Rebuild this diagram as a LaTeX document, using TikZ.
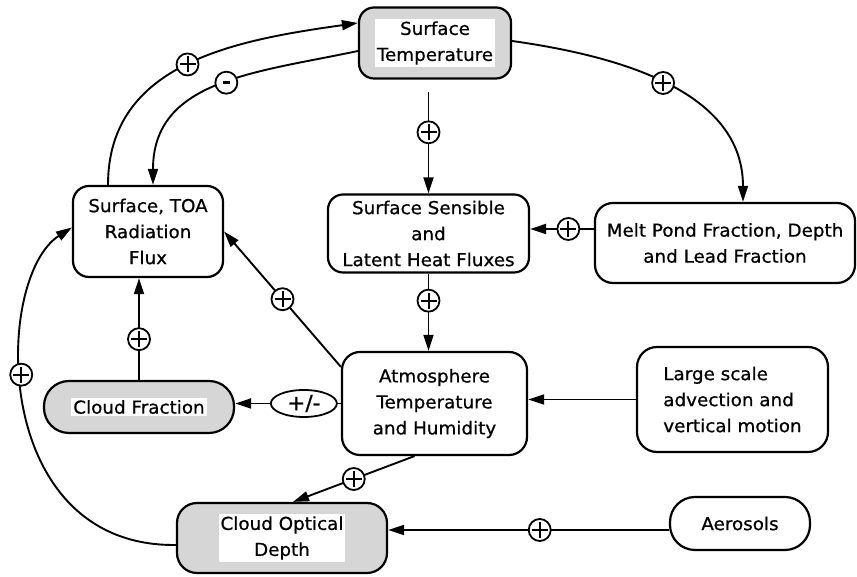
\documentclass[tikz,border=0pt]{standalone}
\usepackage{fontspec}
\setmainfont{DejaVu Sans}[FakeStretch=1.03, FakeBold=0.8]
\usetikzlibrary{arrows.meta,shapes.geometric,calc}
\begin{document}
\begin{tikzpicture}[x=1pt,y=1pt,
 lbl/.style={font=\fontsize{17.8}{26}\selectfont},
 box/.style={draw, line width=2.2pt, rounded corners=15pt, align=center, inner sep=0pt, lbl},
 shadebox/.style={box, fill=gray!32},
 txt/.style={fill=white, align=center, inner sep=2pt, lbl},
 conn/.style={line width=1.9pt, -{Triangle[length=16pt,width=10pt]}},
 sgn/.style={circle, draw, fill=white, line width=1.8pt, minimum size=22pt, inner sep=0pt},
 plus/.style={sgn, path picture={\draw[arrows=-, line width=2pt]
   ($(path picture bounding box.west)+(3pt,0)$) -- ($(path picture bounding box.east)+(-3pt,0)$)
   ($(path picture bounding box.south)+(0,3pt)$) -- ($(path picture bounding box.north)+(0,-3pt)$);}},
 minus/.style={sgn, path picture={\draw[arrows=-, line width=3.2pt]
   ($(path picture bounding box.center)+(-3.5pt,0)$) -- ($(path picture bounding box.center)+(3.5pt,0)$);}},
 pm/.style={ellipse, draw, fill=white, line width=1.8pt, minimum width=66pt, minimum height=27pt, inner sep=0pt, font=\fontsize{21}{21}\selectfont},
]
\useasboundingbox (0,0) rectangle (857,577);

% nodes
\node[box, minimum width=150pt, minimum height=91pt, rounded corners=16pt] (rf) at (148,345.5) {Surface, TOA\\Radiation\\Flux};
\node[shadebox, minimum width=152pt, minimum height=71pt] (st) at (435,534) {};
\node[txt] (stt) at (st) {Surface\\Temperature};
\node[box, minimum width=201pt, minimum height=78pt] (sh) at (428.5,343.5) {Surface Sensible\\and\\Latent Heat Fluxes};
\node[box, minimum width=260pt, minimum height=80pt, rounded corners=18pt] (mp) at (725,334) {Melt Pond Fraction, Depth\\and Lead Fraction};
\node[box, minimum width=185pt, minimum height=103pt, rounded corners=18pt] (at) at (434.5,173.5) {Atmosphere\\Temperature\\and Humidity};
\node[box, minimum width=191pt, minimum height=105pt, rounded corners=20pt, align=left] (ls) at (732.5,177.5) {Large scale\\advection and\\vertical motion};
\node[shadebox, minimum width=190pt, minimum height=52pt, rounded corners=25pt] (cf) at (139,170) {};
\node[txt] (cft) at (cf) {Cloud Fraction};
\node[shadebox, minimum width=210pt, minimum height=70pt, rounded corners=20pt] (cod) at (282,39) {};
\node[txt] (codt) at (cod) {Cloud Optical\\Depth};
\node[box, minimum width=140pt, minimum height=53pt, rounded corners=25pt] (ae) at (740,53.5) {Aerosols};

% connectors
\draw[conn] ($(rf.north)+(-40,0)$) to[out=90,in=188,looseness=1.05] node[plus,pos=0.5] (s1) {} ($(st.west)+(0,20)$);
\draw[conn] ($(st.west)+(0,-8)$) to[out=192,in=90,looseness=1.1] node[minus,pos=0.46] (s2) {} ($(rf.north)+(5,0)$);
\draw[conn] ($(st.east)+(0,2)$) to[out=-8,in=90] node[plus,pos=0.48] (s3) {} ($(mp.north)+(18,0)$);
\draw[conn] ($(sh.north |- st.south)+(0,-12)$) -- node[plus,pos=0.4] (s4) {} (sh.north);
\coordinate (mpout) at ($(mp.west)+(0,14)$);
\draw[conn] (mpout) -- node[plus,pos=0.4] (s5) {} (mpout -| sh.east);
\draw[conn] (sh.south) -- node[plus,pos=0.35] (s6) {} (sh.south |- at.north);
\draw[conn] ($(at.north west)+(0,-16)$) -- node[plus,pos=0.5] (s7) {} (rf.east);
\draw[conn] (cf.north) -- node[plus,pos=0.4] (s8) {} (cf.north |- rf.south);
\draw[conn] (at.west) -- node[pm,pos=0.35] (s9) {+/-} (at.west -| cf.east);
\draw[conn] ($(at.south)+(-20,0)$) -- node[plus,pos=0.5] (s10) {} ($(cod.north)+(11,0)$);
\draw[conn] ($(cod.west)+(0,-7)$) .. controls +(-187,-2) and +(-78,-50) .. node[plus,pos=0.57] (s11) {} ($(rf.west)+(0,4)$);
\coordinate (aeout) at ($(ae.west)+(0,-6.5)$);
\draw[conn] (aeout) -- node[plus,pos=0.46] (s12) {} (aeout -| cod.east);
\draw[conn] (ls.west) -- (ls.west -| at.east);
\end{tikzpicture}
\end{document}
